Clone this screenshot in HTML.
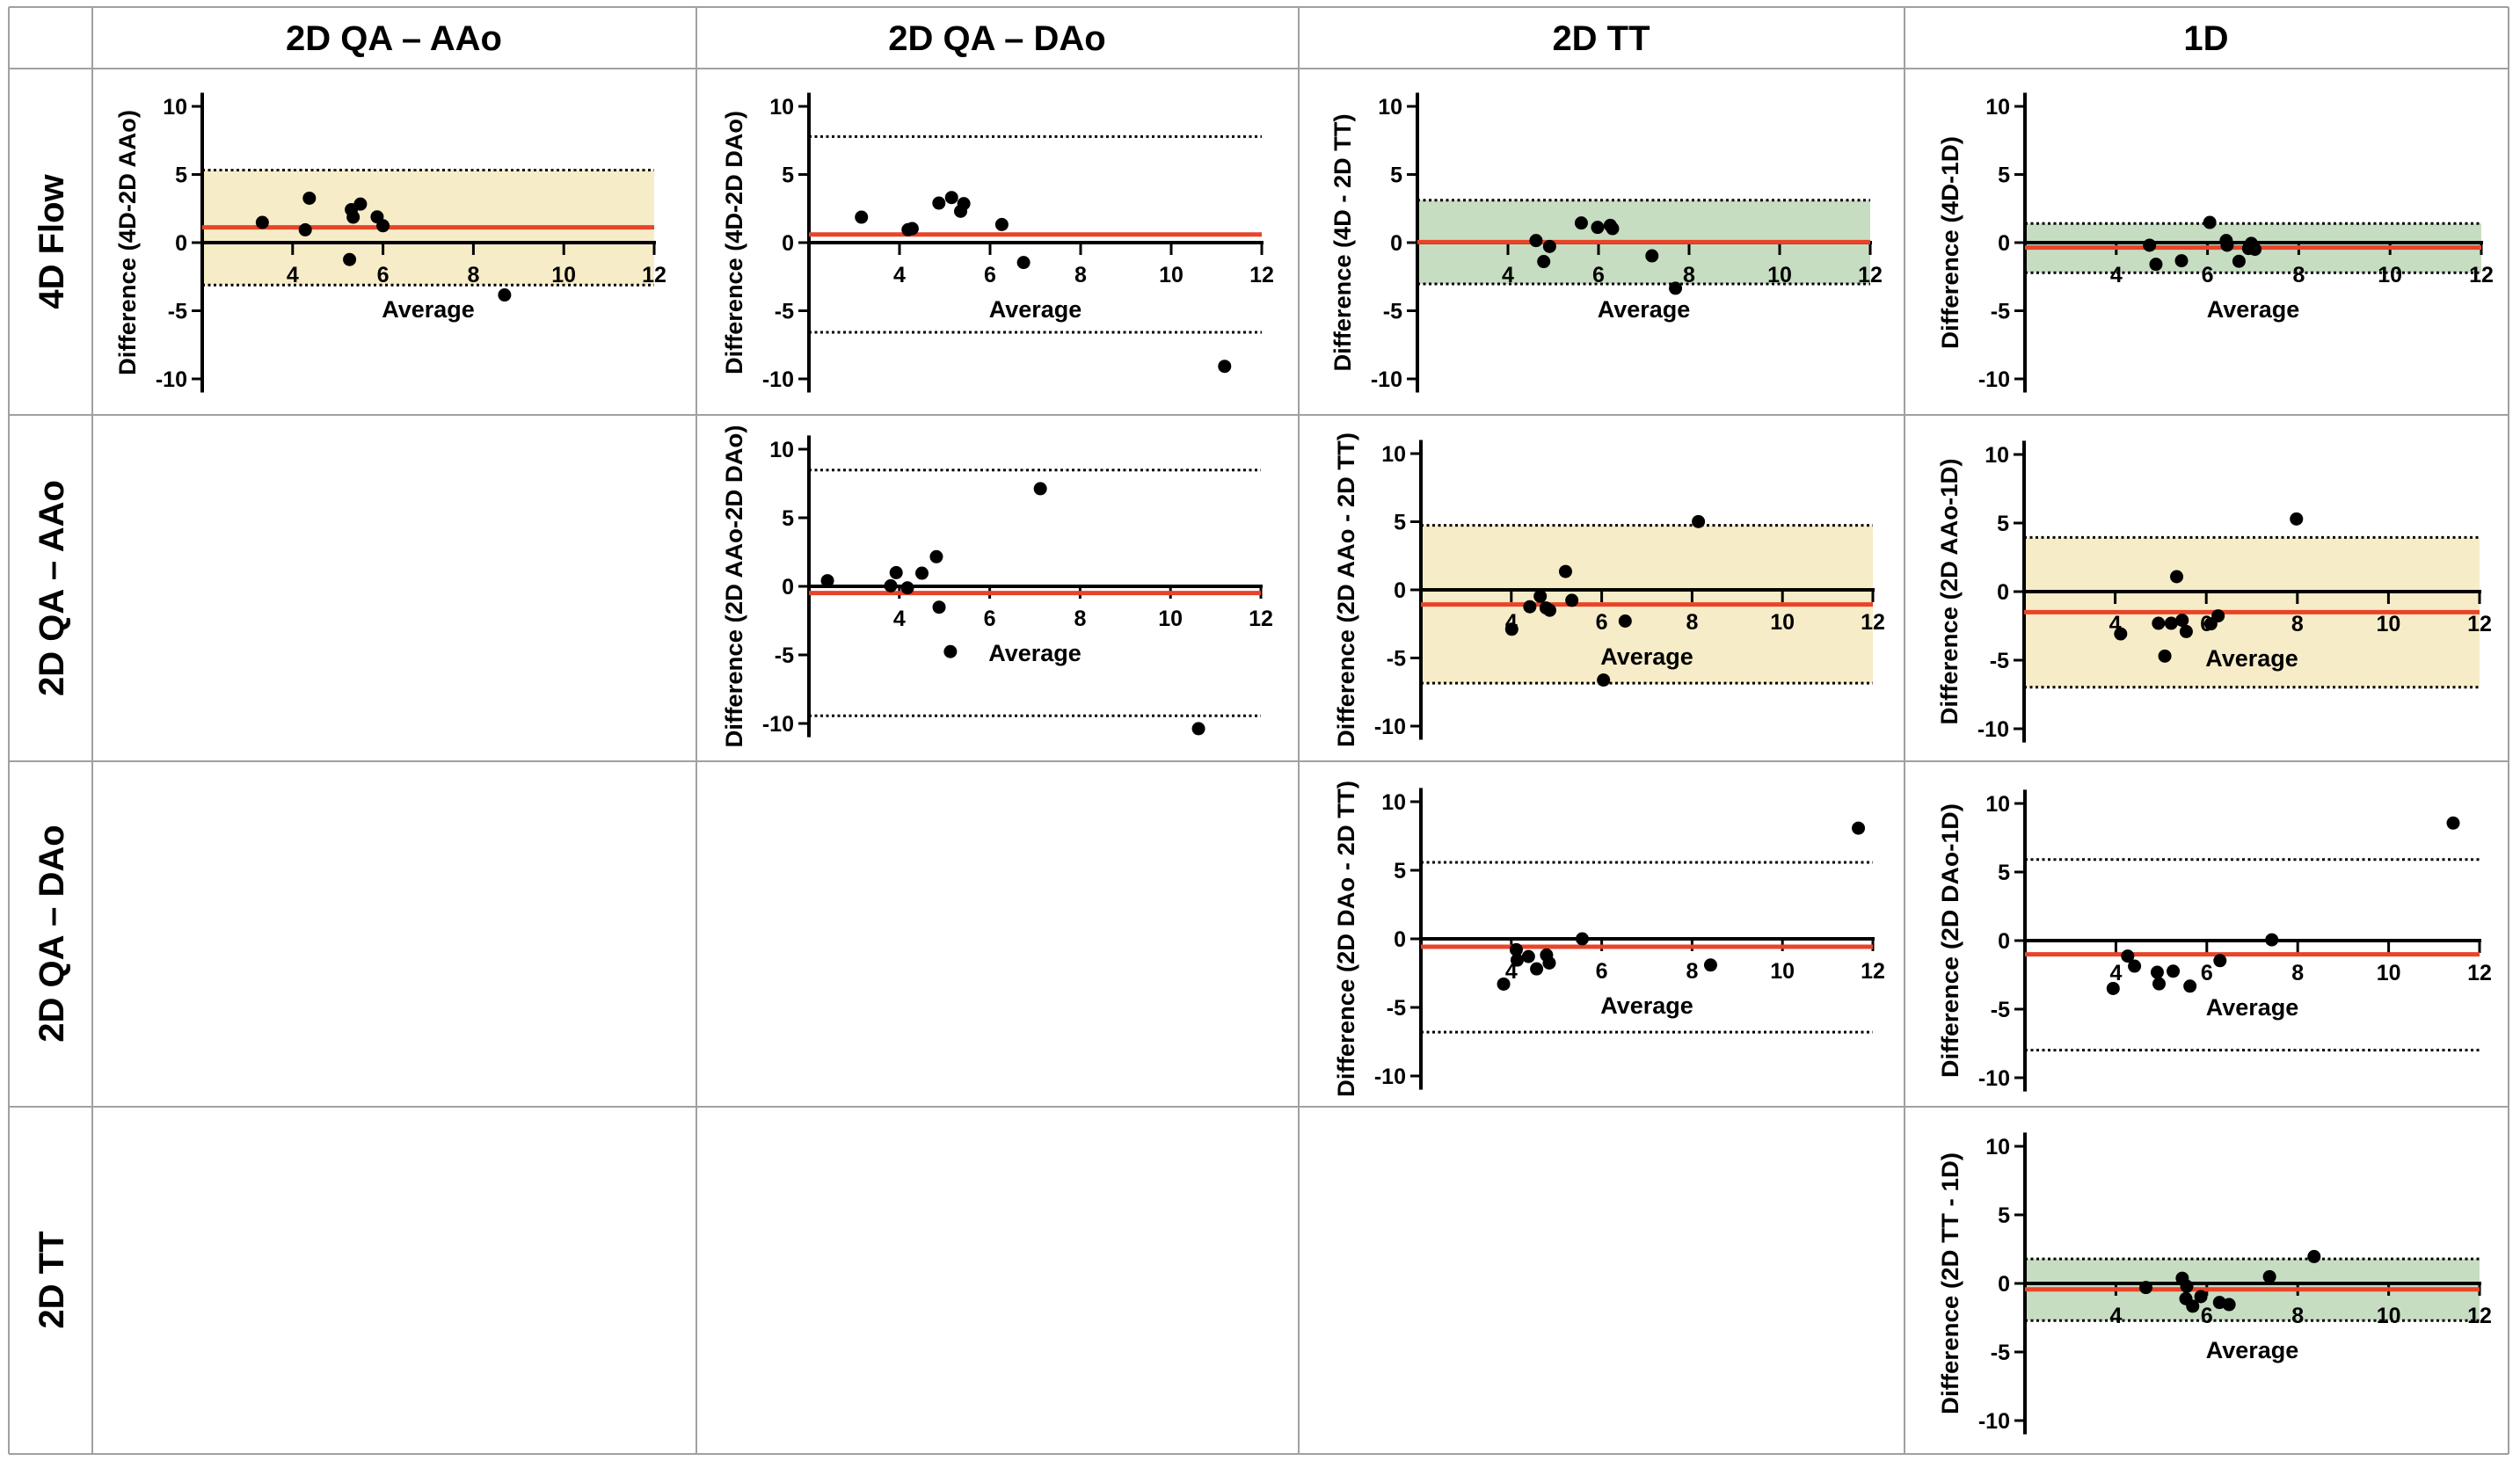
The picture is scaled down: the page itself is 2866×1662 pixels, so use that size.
<!DOCTYPE html>
<html><head><meta charset="utf-8"><style>
html,body{margin:0;padding:0;background:#fff;}
svg{display:block;}
text{font-family:"Liberation Sans",Arial,sans-serif;}
.tick{font-family:"Liberation Sans Narrow","Liberation Sans",sans-serif;font-weight:bold;font-size:25px;fill:#000;}
.hdr{font-family:"Liberation Sans Narrow","Liberation Sans",sans-serif;font-weight:bold;font-size:40px;fill:#000;}
.row{font-weight:bold;font-size:40px;fill:#000;}
.ytitle{font-weight:bold;font-size:27px;fill:#000;}
.xtitle{font-family:"Liberation Sans Narrow","Liberation Sans",sans-serif;font-weight:bold;font-size:27px;fill:#000;}
</style></head><body>
<svg id="fig" width="2866" height="1662" viewBox="0 0 2866 1662" xmlns="http://www.w3.org/2000/svg">
<g id="grid" stroke="#a0a0a0" stroke-width="2">
<line x1="10" y1="8" x2="2853" y2="8"/><line x1="10" y1="78" x2="2853" y2="78"/>
<line x1="10" y1="472" x2="2853" y2="472"/><line x1="10" y1="866" x2="2853" y2="866"/>
<line x1="10" y1="1259" x2="2853" y2="1259"/><line x1="10" y1="1654" x2="2853" y2="1654"/>
<line x1="10" y1="8" x2="10" y2="1654"/><line x1="105" y1="8" x2="105" y2="1654"/>
<line x1="792" y1="8" x2="792" y2="1654"/><line x1="1477" y1="8" x2="1477" y2="1654"/>
<line x1="2166" y1="8" x2="2166" y2="1654"/><line x1="2853" y1="8" x2="2853" y2="1654"/>
</g>
<text class="hdr" x="448" y="57" text-anchor="middle">2D QA – AAo</text>
<text class="hdr" x="1134" y="57" text-anchor="middle">2D QA – DAo</text>
<text class="hdr" x="1821" y="57" text-anchor="middle">2D TT</text>
<text class="hdr" x="2509" y="57" text-anchor="middle">1D</text>
<text class="row" transform="translate(72,275) rotate(-90)" text-anchor="middle">4D Flow</text>
<text class="row" transform="translate(72,669) rotate(-90)" text-anchor="middle">2D QA – AAo</text>
<text class="row" transform="translate(72,1062) rotate(-90)" text-anchor="middle">2D QA – DAo</text>
<text class="row" transform="translate(72,1456) rotate(-90)" text-anchor="middle">2D TT</text>
</svg>
<script>
// ---- data (average, difference, bias, limits of agreement) ----
const xTicks = [4, 6, 8, 10, 12];
const yTicks = [10, 5, 0, -5, -10];
const yTickLabels = ["10", "5", "0", "-5", "-10"];

const p11_avg = [3.33, 4.28, 4.37, 5.26, 5.30, 5.34, 5.50, 5.87, 6.00, 8.69];
const p11_diff = [1.48, 0.94, 3.26, -1.24, 2.42, 1.87, 2.83, 1.89, 1.24, -3.84];
const p11_loa = [1.12, 5.32, -3.11];

const p12_avg = [3.16, 4.19, 4.28, 4.87, 5.15, 5.35, 5.42, 6.26, 6.74, 11.18];
const p12_diff = [1.87, 0.95, 1.03, 2.90, 3.31, 2.30, 2.86, 1.33, -1.46, -9.08];
const p12_loa = [0.60, 7.78, -6.58];

const p13_avg = [4.62, 4.79, 4.92, 5.62, 5.98, 6.26, 6.31, 7.18, 7.70];
const p13_diff = [0.15, -1.39, -0.28, 1.44, 1.12, 1.27, 1.03, -0.97, -3.35];
const p13_loa = [0.04, 3.11, -3.03];

const p14_avg = [4.73, 4.87, 5.43, 6.05, 6.41, 6.43, 6.69, 6.96, 6.90, 7.04];
const p14_diff = [-0.19, -1.59, -1.33, 1.48, 0.15, -0.19, -1.37, -0.06, -0.43, -0.49];
const p14_loa = [-0.36, 1.40, -2.21];

const p22_avg = [2.41, 3.81, 3.93, 4.18, 4.50, 4.82, 4.88, 5.13, 7.12, 10.62];
const p22_diff = [0.41, 0.04, 1.00, -0.11, 0.96, 2.16, -1.52, -4.76, 7.12, -10.38];
const p22_loa = [-0.49, 8.48, -9.44];

const p23_avg = [4.01, 4.41, 4.64, 4.77, 4.85, 5.20, 5.34, 6.52, 6.04, 8.14];
const p23_diff = [-2.89, -1.24, -0.47, -1.33, -1.50, 1.35, -0.77, -2.29, -6.62, 5.01];
const p23_loa = [-1.07, 4.73, -6.85];

const p24_avg = [4.12, 4.95, 5.23, 5.35, 5.47, 5.56, 6.10, 6.26, 5.09, 7.98];
const p24_diff = [-3.08, -2.31, -2.31, 1.09, -2.09, -2.91, -2.35, -1.77, -4.70, 5.30];
const p24_loa = [-1.50, 3.95, -6.97];

const p33_avg = [3.83, 4.11, 4.13, 4.38, 4.56, 4.78, 4.84, 5.57, 8.41, 11.68];
const p33_diff = [-3.30, -0.79, -1.55, -1.29, -2.19, -1.18, -1.76, 0.00, -1.91, 8.07];
const p33_loa = [-0.58, 5.58, -6.80];

const p34_avg = [3.94, 4.26, 4.41, 4.91, 4.95, 5.26, 5.63, 6.29, 7.43, 11.42];
const p34_diff = [-3.49, -1.13, -1.86, -2.31, -3.15, -2.23, -3.32, -1.46, 0.06, 8.57];
const p34_loa = [-1.00, 5.91, -7.99];

const p44_avg = [4.66, 5.46, 5.56, 5.54, 5.69, 5.87, 6.28, 6.49, 7.38, 8.36];
const p44_diff = [-0.30, 0.38, -0.21, -1.11, -1.66, -0.96, -1.39, -1.54, 0.49, 1.96];
const p44_loa = [-0.43, 1.79, -2.71];

const panels = [
  {id:"4d-vs-2d-aao", title:"Difference (4D-2D AAo)", avg:p11_avg, diff:p11_diff, loa:p11_loa, band:"#f6ecc7", ax:230, x12:744, y0:276, y10:121, tl:302},
  {id:"4d-vs-2d-dao", title:"Difference (4D-2D DAo)", avg:p12_avg, diff:p12_diff, loa:p12_loa, band:null, ax:920, x12:1435, y0:276, y10:121, tl:300},
  {id:"4d-vs-2d-tt", title:"Difference (4D - 2D TT)", avg:p13_avg, diff:p13_diff, loa:p13_loa, band:"#c7ddc2", ax:1612, x12:2127, y0:276, y10:121, tl:293},
  {id:"4d-vs-1d", title:"Difference (4D-1D)", avg:p14_avg, diff:p14_diff, loa:p14_loa, band:"#c7ddc2", ax:2303, x12:2822, y0:276, y10:121, tl:242},
  {id:"2d-aao-vs-2d-dao", title:"Difference (2D AAo-2D DAo)", avg:p22_avg, diff:p22_diff, loa:p22_loa, band:null, ax:920, x12:1434, y0:667, y10:511, tl:367},
  {id:"2d-aao-vs-2d-tt", title:"Difference (2D AAo - 2D TT)", avg:p23_avg, diff:p23_diff, loa:p23_loa, band:"#f6ecc7", ax:1616, x12:2130, y0:671, y10:516, tl:358},
  {id:"2d-aao-vs-1d", title:"Difference (2D AAo-1D)", avg:p24_avg, diff:p24_diff, loa:p24_loa, band:"#f6ecc7", ax:2302, x12:2820, y0:673, y10:517, tl:303},
  {id:"2d-dao-vs-2d-tt", title:"Difference (2D DAo - 2D TT)", avg:p33_avg, diff:p33_diff, loa:p33_loa, band:null, ax:1616, x12:2130, y0:1068, y10:912, tl:360},
  {id:"2d-dao-vs-1d", title:"Difference  (2D DAo-1D)", avg:p34_avg, diff:p34_diff, loa:p34_loa, band:null, ax:2303, x12:2820, y0:1070, y10:914, tl:312},
  {id:"2d-tt-vs-1d", title:"Difference (2D TT - 1D)", avg:p44_avg, diff:p44_diff, loa:p44_loa, band:"#c7ddc2", ax:2303, x12:2820, y0:1460, y10:1304, tl:298}
];

const NS = "http://www.w3.org/2000/svg";
const svg = document.getElementById("fig");
function mk(tag, attrs, parent) {
  const e = document.createElementNS(NS, tag);
  for (const k in attrs) e.setAttribute(k, attrs[k]);
  parent.appendChild(e);
  return e;
}
panels.forEach(p => {
  const xs = v => p.ax + (v - 2) * (p.x12 - p.ax) / 10;
  const ys = v => p.y0 - v * (p.y0 - p.y10) / 10;
  const g = mk("g", {}, svg);
  
  
  const bias = p.loa[0], up = p.loa[1], lo = p.loa[2];
  if (p.band) {
    const b = mk("rect", {x: xs(2), y: ys(up), width: xs(12) - xs(2), height: ys(lo) - ys(up), fill: p.band}, g);
    
    
  }
  [up, lo].forEach((v, i) => {
    const l = mk("line", {x1: xs(2), x2: xs(12), y1: ys(v), y2: ys(v), stroke: "#000", "stroke-width": 3, "stroke-dasharray": "3 3.5"}, g);
    
    
  });
  const ya = mk("line", {x1: p.ax, x2: p.ax, y1: ys(11), y2: ys(-11), stroke: "#000", "stroke-width": 4}, g);
  
  
  yTicks.forEach((t, i) => {
    mk("line", {x1: p.ax - 12, x2: p.ax, y1: ys(t), y2: ys(t), stroke: "#000", "stroke-width": 3}, g);
    const tx = mk("text", {x: p.ax - 17, y: ys(t) + 9, "text-anchor": "end", class: "tick"}, g);
    tx.textContent = yTickLabels[i];
    
    
  });
  const xa = mk("line", {x1: xs(2), x2: xs(12) + 2, y1: ys(0), y2: ys(0), stroke: "#000", "stroke-width": 4}, g);
  
  
  xTicks.forEach(t => {
    mk("line", {x1: xs(t), x2: xs(t), y1: ys(0), y2: ys(0) + 14, stroke: "#000", "stroke-width": 3}, g);
    const tx = mk("text", {x: xs(t), y: ys(0) + 45, "text-anchor": "middle", class: "tick"}, g);
    tx.textContent = String(t);
    
    
  });
  const bl = mk("line", {x1: xs(2), x2: xs(12), y1: ys(bias), y2: ys(bias), stroke: "#e8442a", "stroke-width": 5}, g);
  
  
  p.avg.forEach((a, i) => {
    const c = mk("circle", {cx: xs(a), cy: ys(p.diff[i]), r: 7.5, fill: "#000"}, g);
    
    
  });
  const xt = mk("text", {x: xs(7), y: ys(0) + 85, "text-anchor": "middle", class: "xtitle"}, g);
  xt.textContent = "Average";
  
  
  const yt = mk("text", {transform: "translate(" + (p.ax - 76) + "," + p.y0 + ") rotate(-90)", "text-anchor": "middle", class: "ytitle", textLength: p.tl, lengthAdjust: "spacingAndGlyphs"}, g);
  yt.textContent = p.title;
  
  
});
</script>
</body></html>
